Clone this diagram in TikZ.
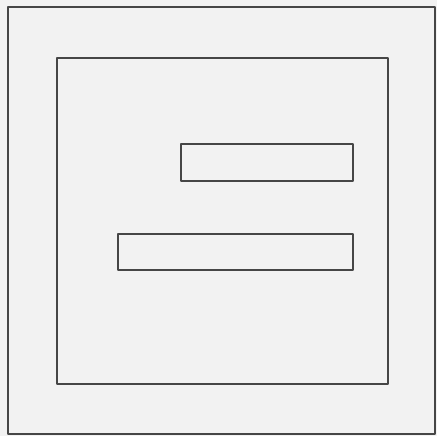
\documentclass[tikz,border=0pt]{standalone}
\usepackage{tikz}
\usetikzlibrary{arrows.meta,positioning}
\definecolor{paperbg}{RGB}{242,242,242}
\definecolor{frameline}{RGB}{70,70,70}

\begin{document}
\begin{tikzpicture}[x=0.1mm,y=-0.1mm,line cap=round,line join=round,
  frame/.style={frameline,line width=0.7pt}]
 \fill[paperbg] (0,0) rectangle (437,436);
 \useasboundingbox (0,0) rectangle (437,436);
 % outer and inner squares
 \draw[frame] (8,7) rectangle (435,434);
 \draw[frame] (57,58) rectangle (388,384);
 % the two bars
 \draw[frame] (181,144) rectangle (353,181);
 \draw[frame] (118,234) rectangle (353,270);
\end{tikzpicture}
\end{document}
